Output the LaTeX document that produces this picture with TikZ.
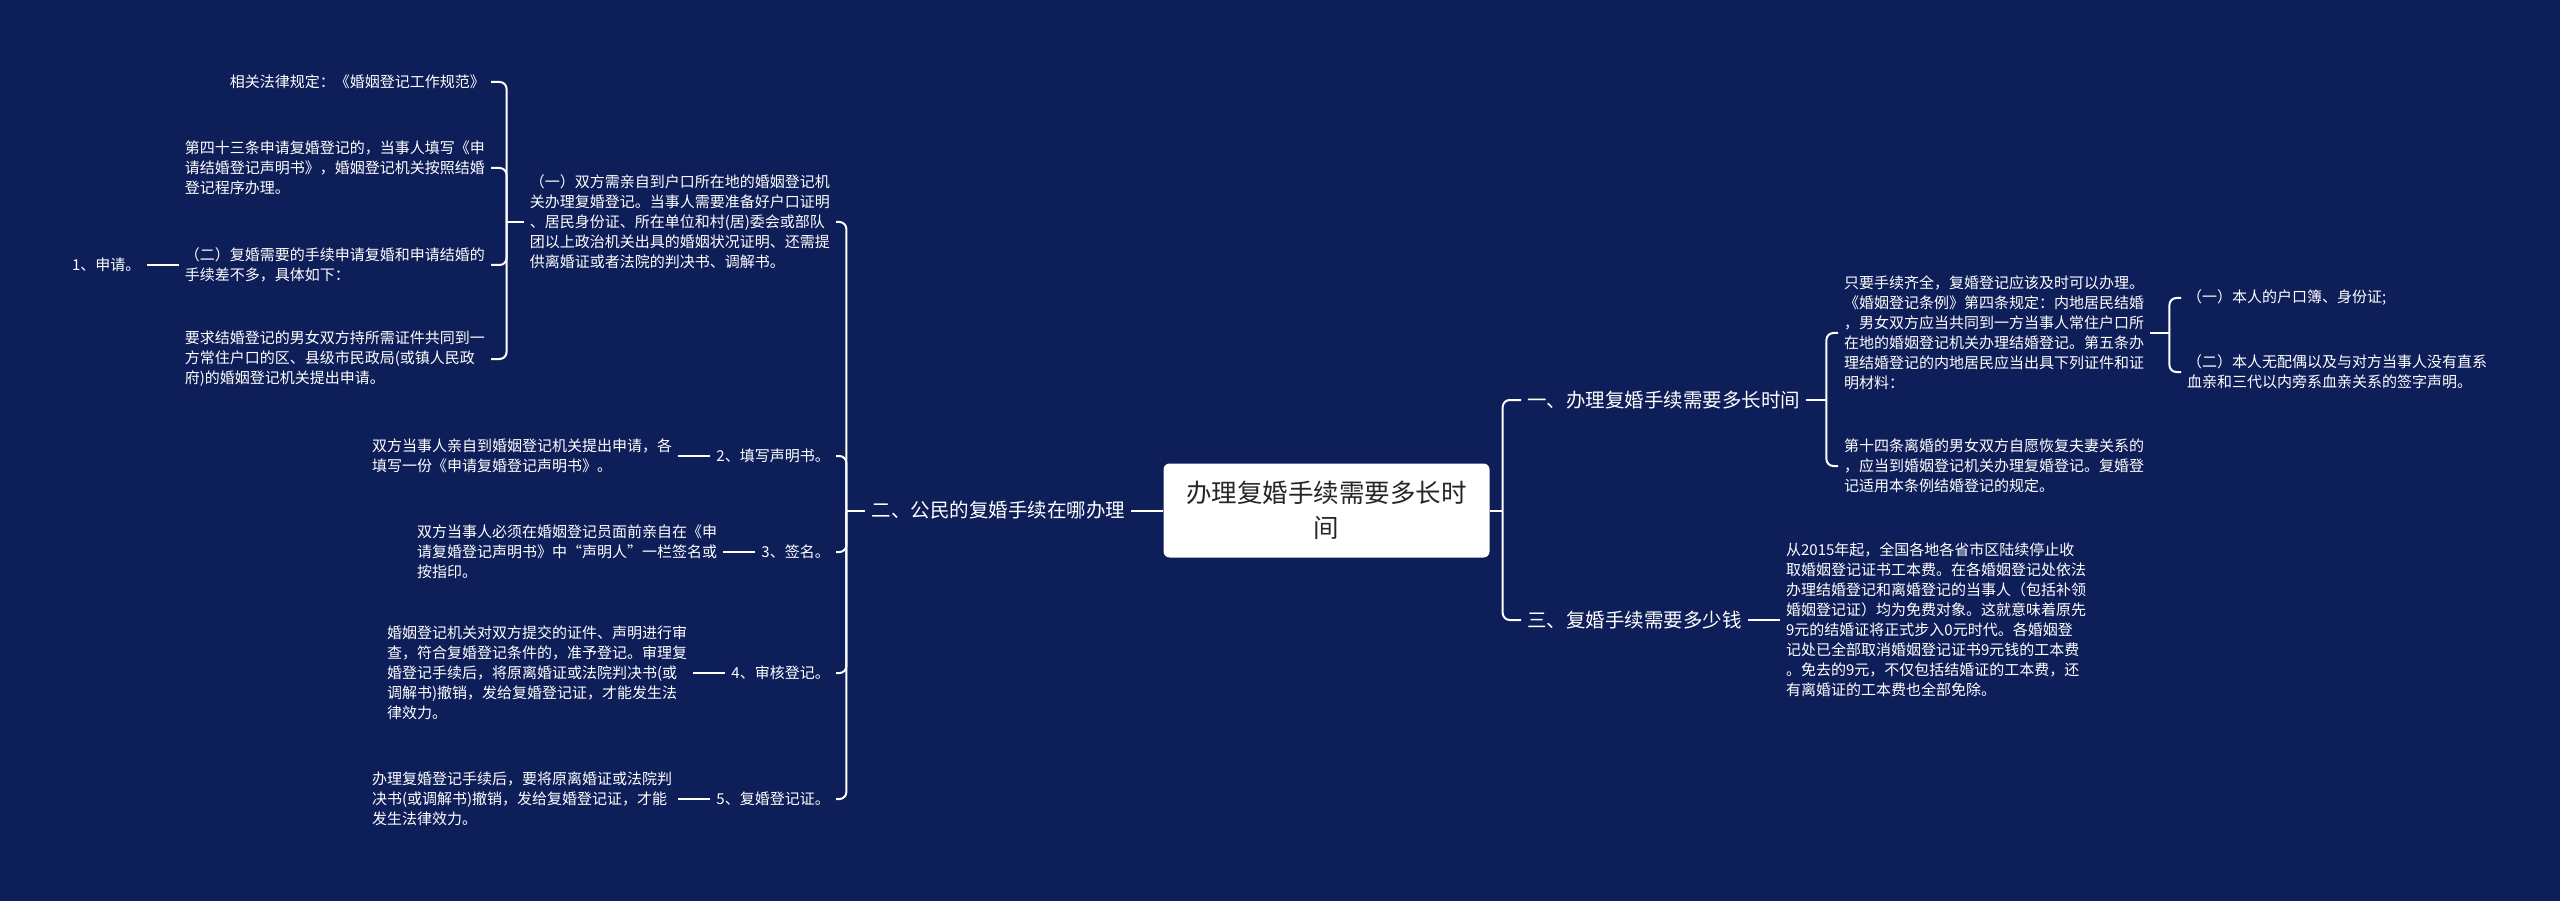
\documentclass[tikz,border=0pt]{standalone}
\usepackage{fontspec}
\setmainfont{Noto Sans CJK SC}
\usetikzlibrary{positioning}
\definecolor{navy}{HTML}{0E1E58}
\tikzstyle{mapsheet}=[x=1pt, y=-1pt, node distance=32pt, every node/.style={inner sep=6pt}]
\tikzstyle{link}=[draw=white, line width=2pt, rounded corners=7pt]
\tikzstyle{leaf}=[text=white, font=\fontsize{15}{20}\selectfont, align=left]
\tikzstyle{branch}=[text=white, font=\fontsize{19.5}{24}\selectfont]
\tikzstyle{topic}=[fill=white, text=black!85, rounded corners=6pt, align=center,
  font=\fontsize{25.5}{35}\selectfont, minimum width=326pt, minimum height=94pt]

\begin{document}
\begin{tikzpicture}[mapsheet]
  \fill[navy] (0,0) rectangle (2560,901);
  \useasboundingbox (0,0) rectangle (2560,901);

  \node[topic] (root) at (1326.5,510.5) {办理复婚手续需要多长时\\间};

  \node[branch] (s2) [left=of root] {二、公民的复婚手续在哪办理};
  \node[leaf,anchor=east] (q1) at (836,222) {（一）双方需亲自到户口所在地的婚姻登记机\\关办理复婚登记。当事人需要准备好户口证明\\、居民身份证、所在单位和村(居)委会或部队\\团以上政治机关出具的婚姻状况证明、还需提\\供离婚证或者法院的判决书、调解书。};
  \node[leaf,anchor=east] (rule) at (491,82) {相关法律规定：《婚姻登记工作规范》};
  \node[leaf,anchor=east] (art43) at (491,168) {第四十三条申请复婚登记的，当事人填写《申\\请结婚登记声明书》，婚姻登记机关按照结婚\\登记程序办理。};
  \node[leaf,anchor=east] (q2) at (491,265) {（二）复婚需要的手续申请复婚和申请结婚的\\手续差不多，具体如下：};
  \node[leaf,anchor=east] (req) at (491,359) {要求结婚登记的男女双方持所需证件共同到一\\方常住户口的区、县级市民政局(或镇人民政\\府)的婚姻登记机关提出申请。};
  \node[leaf] (apply) [left=of q2] {1、申请。};

  \node[leaf,anchor=east] (st2) at (836,456) {2、填写声明书。};
  \node[leaf,anchor=east] (st3) at (836,552) {3、签名。};
  \node[leaf,anchor=east] (st4) at (836,673) {4、审核登记。};
  \node[leaf,anchor=east] (st5) at (836,799) {5、复婚登记证。};
  \node[leaf] (d2) [left=of st2] {双方当事人亲自到婚姻登记机关提出申请，各\\填写一份《申请复婚登记声明书》。};
  \node[leaf] (d3) [left=of st3] {双方当事人必须在婚姻登记员面前亲自在《申\\请复婚登记声明书》中“声明人”一栏签名或\\按指印。};
  \node[leaf] (d4) [left=of st4] {婚姻登记机关对双方提交的证件、声明进行审\\查，符合复婚登记条件的，准予登记。审理复\\婚登记手续后，将原离婚证或法院判决书(或\\调解书)撤销，发给复婚登记证，才能发生法\\律效力。};
  \node[leaf] (d5) [left=of st5] {办理复婚登记手续后，要将原离婚证或法院判\\决书(或调解书)撤销，发给复婚登记证，才能\\发生法律效力。};

  \node[branch,anchor=west] (s1) at (1521,400) {一、办理复婚手续需要多长时间};
  \node[branch,anchor=west] (s3) at (1521,620) {三、复婚手续需要多少钱};
  \node[leaf,anchor=west] (a1) at (1838,333) {只要手续齐全，复婚登记应该及时可以办理。\\《婚姻登记条例》第四条规定：内地居民结婚\\，男女双方应当共同到一方当事人常住户口所\\在地的婚姻登记机关办理结婚登记。第五条办\\理结婚登记的内地居民应当出具下列证件和证\\明材料：};
  \node[leaf,anchor=west] (b1) at (1838,466) {第十四条离婚的男女双方自愿恢复夫妻关系的\\，应当到婚姻登记机关办理复婚登记。复婚登\\记适用本条例结婚登记的规定。};
  \node[leaf,anchor=west] (c1) at (2181,298) {（一）本人的户口簿、身份证;};
  \node[leaf,anchor=west] (c2) at (2181,372) {（二）本人无配偶以及与对方当事人没有直系\\血亲和三代以内旁系血亲关系的签字声明。};
  \node[leaf] (fee) [right=of s3] {从2015年起，全国各地各省市区陆续停止收\\取婚姻登记证书工本费。在各婚姻登记处依法\\办理结婚登记和离婚登记的当事人（包括补领\\婚姻登记证）均为免费对象。这就意味着原先\\9元的结婚证将正式步入0元时代。各婚姻登\\记处已全部取消婚姻登记证书9元钱的工本费\\。免去的9元，不仅包括结婚证的工本费，还\\有离婚证的工本费也全部免除。};

  \draw[link] (root.west) -- (s2.east);
  \draw[link] (s2.west) -- ++(-19,0) coordinate (b2);
  \draw[link] (b2) |- (q1.east);
  \draw[link] (b2) |- (st2.east);
  \draw[link] (b2) |- (st3.east);
  \draw[link] (b2) |- (st4.east);
  \draw[link] (b2) |- (st5.east);
  \draw[link] (q1.west) -- ++(-17,0) coordinate (bq1);
  \draw[link] (bq1) |- (rule.east);
  \draw[link] (bq1) |- (art43.east);
  \draw[link] (bq1) |- (q2.east);
  \draw[link] (bq1) |- (req.east);
  \draw[link] (q2.west) -- (apply.east);
  \draw[link] (st2.west) -- (d2.east);
  \draw[link] (st3.west) -- (d3.east);
  \draw[link] (st4.west) -- (d4.east);
  \draw[link] (st5.west) -- (d5.east);

  \draw[link] (root.east) -- ++(13,0) coordinate (b0);
  \draw[link] (b0) |- (s1.west);
  \draw[link] (b0) |- (s3.west);
  \draw[link] (s1.east) -- ++(20,0) coordinate (b1x);
  \draw[link] (b1x) |- (a1.west);
  \draw[link] (b1x) |- (b1.west);
  \draw[link] (a1.east) -- ++(19,0) coordinate (ba);
  \draw[link] (ba) |- (c1.west);
  \draw[link] (ba) |- (c2.west);
  \draw[link] (s3.east) -- (fee.west);
\end{tikzpicture}
\end{document}
